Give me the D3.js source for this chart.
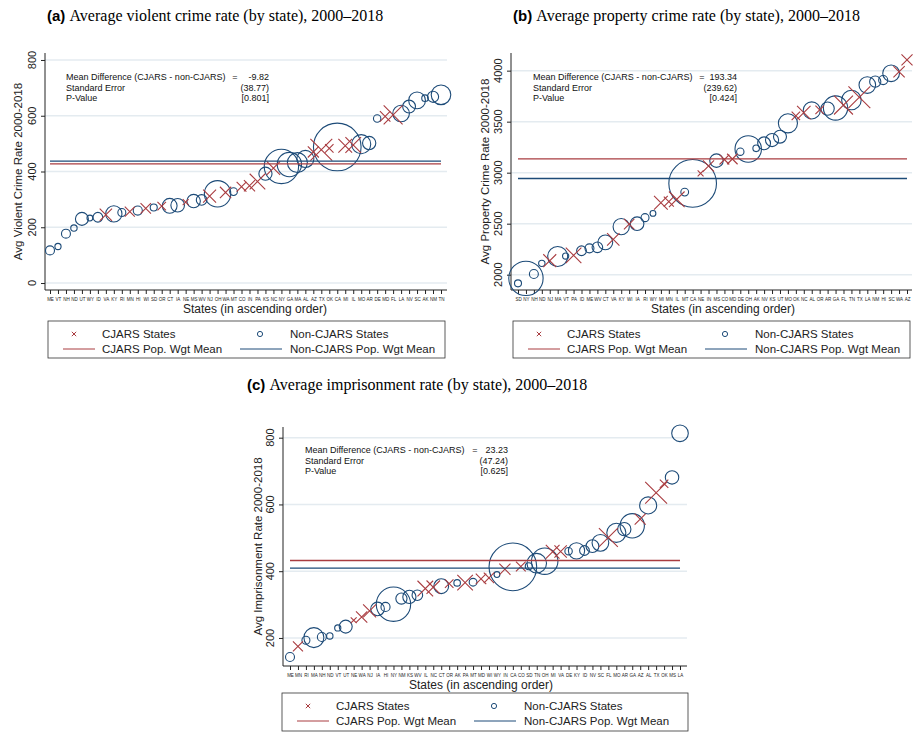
<!DOCTYPE html>
<html>
<head>
<meta charset="utf-8">
<script src="https://cdn.jsdelivr.net/npm/d3@7"></script>
<style>
  body { margin: 0; background: #fff; }
  svg { display: block; font-family: "Liberation Sans", Arial, sans-serif; }
</style>
</head>
<body>
<svg id="chart" width="915" height="733"></svg>
<script>
// ── Data ──
const cjarsStates = ["AZ","CO","FL","IL","IN","MD","MI","MN","NE","NJ","NC","OK","OR","PA","TX","VA","WA","WI"];

// population (millions) -> marker weight
const popStates = ["AL","AK","AZ","AR","CA","CO","CT","DE","FL","GA","HI","ID","IL","IN","IA","KS","KY","LA","ME","MD",
  "MA","MI","MN","MS","MO","MT","NE","NV","NH","NJ","NM","NY","NC","ND","OH","OK","OR","PA","RI","SC",
  "SD","TN","TX","UT","VT","VA","WA","WV","WI","WY"];
const popMillions = [4.8,0.71,6.4,2.9,37.3,5.0,3.6,0.9,18.8,9.7,1.36,1.57,12.8,6.5,3.05,2.85,4.34,4.53,1.33,5.77,
  6.55,9.88,5.3,2.97,5.99,0.99,1.83,2.7,1.32,8.8,2.06,19.4,9.5,0.67,11.5,3.75,3.83,12.7,1.05,4.6,
  0.81,6.3,25.1,2.76,0.63,8.0,6.7,1.85,5.69,0.56];

const violentStates = ["ME","VT","NH","ND","UT","WY","ID","VA","KY","RI","MN","HI","WI","SD","OR","CT","IA","NE","MS","WV",
  "NJ","OH","WA","MT","CO","IN","PA","KS","NC","NY","GA","MA","AL","AZ","TX","OK","CA","MI","IL","MO",
  "AR","DE","MD","FL","LA","NV","SC","AK","NM","TN"];
const violentRates = [117,131,177,197,230,233,236,245,248,253,256,260,268,271,276,277,279,290,294,298,
  312,320,325,328,345,349,364,392,412,418,425,432,445,470,478,483,488,492,495,498,
  502,590,598,603,608,633,655,663,668,675];
const violentTicks = [0,200,400,600,800];
const violentMeans = [427, 437];          // CJARS, non-CJARS
const violentStats = ["-9.82","(38.77)","[0.801]"];

const propertyStates = ["SD","NY","NH","ND","NJ","MA","VT","PA","ID","ME","WV","CT","VA","KY","WI","IA","RI","WY","MI","MN",
  "IL","MT","CA","NE","IN","MS","CO","MD","DE","OH","AK","NV","KS","UT","MO","OK","NC","AL","OR","AR",
  "GA","FL","TN","TX","LA","NM","HI","SC","WA","AZ"];
const propertyRates = [1915,1964,2007,2111,2137,2178,2183,2190,2235,2258,2268,2317,2346,2471,2495,2500,2559,2601,2706,2716,
  2739,2810,2895,2993,3065,3118,3128,3134,3206,3232,3239,3288,3320,3353,3484,3556,3588,3610,3616,3628,
  3634,3663,3712,3739,3859,3892,3908,3974,3990,4105];
const propertyTicks = [2000,2500,3000,3500,4000];
const propertyMeans = [3136, 2943];
const propertyStats = ["193.34","(239.62)","[0.424]"];

const prisonStates = ["ME","MN","RI","MA","NH","ND","VT","UT","NE","WA","NJ","IA","HI","NY","NM","KS","WV","IL","NC","CT",
  "OR","AK","PA","MT","MD","WI","WY","IN","CA","CO","SD","TN","OH","MI","VA","DE","KY","ID","NV","SC",
  "FL","MO","AR","GA","AZ","AL","TX","OK","MS","LA"];
const prisonRates = [143,175,193,201,203,206,230,234,253,263,281,287,293,301,318,323,328,348,352,355,
  363,365,366,367,377,380,390,406,413,414,415,424,430,458,459,460,461,462,475,485,
  501,515,526,536,556,597,635,662,681,813];
const prisonTicks = [200,400,600,800];
const prisonMeans = [432, 409];
const prisonStats = ["23.23","(47.24)","[0.625]"];

const statLabels = ["Mean Difference (CJARS - non-CJARS)", "Standard Error", "P-Value"];

// ── Style ──
const RED = '#a93c40';
const BLUE = '#1d4b78';
const GRID = '#e4ebf0';

const svg = d3.select('#chart');
const popOf = new Map(popStates.map((s, i) => [s, popMillions[i]]));
const cjarsSet = new Set(cjarsStates);
const rScale = d3.scaleSqrt().domain([0, 40]).range([0, 3.9 * Math.sqrt(40)]);

const panels = [
  { letter: '(a)', title: 'Average violent crime rate (by state), 2000–2018', titleX: 47, titleY: 21,
    states: violentStates, values: violentRates, ticks: violentTicks, means: violentMeans, stats: violentStats,
    yTitle: 'Avg Violent Crime Rate 2000-2018',
    left: 45, right: 447, top: 53, bottom: 290, xRange: [50, 441], yDomain: [-25, 825],
    yTitleX: 18, statX: 66, statY: 80, eqX: 235, valX: 269, xTitleX: 255,
    legend: { x: 48, y: 321, w: 397, h: 37 } },
  { letter: '(b)', title: 'Average property crime rate (by state), 2000–2018', titleX: 513, titleY: 21,
    states: propertyStates, values: propertyRates, ticks: propertyTicks, means: propertyMeans, stats: propertyStats,
    yTitle: 'Avg Property Crime Rate 2000-2018',
    left: 511, right: 912, top: 53, bottom: 290, xRange: [518, 907], yDomain: [1850, 4173],
    yTitleX: 485, statX: 533, statY: 80, eqX: 702, valX: 737, xTitleX: 723,
    legend: { x: 513, y: 321, w: 397, h: 37 } },
  { letter: '(c)', title: 'Average imprisonment rate (by state), 2000–2018', titleX: 247, titleY: 390,
    states: prisonStates, values: prisonRates, ticks: prisonTicks, means: prisonMeans, stats: prisonStats,
    yTitle: 'Avg Imprisonment Rate 2000-2018',
    left: 283, right: 687, top: 427, bottom: 666, xRange: [290, 680], yDomain: [116, 832],
    yTitleX: 258, statX: 305, statY: 453, eqX: 475, valX: 508, xTitleX: 481,
    legend: { x: 282, y: 693, w: 406, h: 38 } }
];

function crossPath(s) {
  return `M${-s},${-s}L${s},${s}M${-s},${s}L${s},${-s}`;
}

function drawPanel(p) {
  const g = svg.append('g');
  const x = d3.scalePoint().domain(p.states).range(p.xRange);
  const y = d3.scaleLinear().domain(p.yDomain).range([p.bottom, p.top]);

  // title
  const t = g.append('text').attr('x', p.titleX).attr('y', p.titleY).attr('fill', '#000');
  t.append('tspan').attr('font-weight', 'bold').attr('font-size', 15).text(p.letter + ' ');
  t.append('tspan').attr('font-family', '"Liberation Serif", "Times New Roman", serif')
    .attr('font-size', 16).text(p.title);

  // grid
  g.append('g').selectAll('line').data(p.ticks).join('line')
    .attr('x1', p.left).attr('x2', p.right)
    .attr('y1', d => y(d)).attr('y2', d => y(d))
    .attr('stroke', GRID).attr('stroke-width', 1.5);

  // y axis
  const yAx = g.append('g').attr('transform', `translate(${p.left},0)`)
    .call(d3.axisLeft(y).tickValues(p.ticks).tickSize(4).tickSizeOuter(0));
  yAx.select('.domain').remove();
  yAx.selectAll('.tick line').attr('stroke', '#222');
  yAx.selectAll('.tick text').remove();
  g.append('g').selectAll('text').data(p.ticks).join('text')
    .attr('transform', d => `translate(${p.left - 13},${y(d)}) rotate(-90)`)
    .attr('dy', '0.35em').attr('text-anchor', 'middle')
    .attr('font-size', 11).attr('fill', '#222').text(d => d);
  g.append('line').attr('x1', p.left).attr('x2', p.left).attr('y1', p.top).attr('y2', p.bottom)
    .attr('stroke', '#222');

  g.append('text')
    .attr('transform', `translate(${p.yTitleX},${(p.top + p.bottom) / 2}) rotate(-90)`)
    .attr('dy', '0.35em').attr('text-anchor', 'middle')
    .attr('font-size', 11.5).attr('fill', '#222').text(p.yTitle);

  // x axis
  const xAx = g.append('g').attr('transform', `translate(0,${p.bottom})`)
    .call(d3.axisBottom(x).tickSize(4).tickSizeOuter(0).tickPadding(4));
  xAx.select('.domain').remove();
  xAx.selectAll('.tick line').attr('stroke', '#222');
  xAx.selectAll('.tick text').attr('font-size', 4.5).attr('fill', '#222')
    .attr('font-family', '"Liberation Sans", Arial, sans-serif');
  g.append('line').attr('x1', p.left).attr('x2', p.right).attr('y1', p.bottom).attr('y2', p.bottom)
    .attr('stroke', '#222');
  g.append('text').attr('x', p.xTitleX).attr('y', p.bottom + 23)
    .attr('text-anchor', 'middle').attr('font-size', 12).attr('fill', '#222')
    .text('States (in ascending order)');

  // marks
  const pts = p.states.map((s, i) => ({ s, v: p.values[i], cj: cjarsSet.has(s), r: rScale(popOf.get(s)) }));
  g.append('g').selectAll('circle').data(pts.filter(d => !d.cj)).join('circle')
    .attr('cx', d => x(d.s)).attr('cy', d => y(d.v)).attr('r', d => d.r)
    .attr('fill', 'none').attr('stroke', BLUE).attr('stroke-width', 1.1);
  g.append('g').selectAll('path').data(pts.filter(d => d.cj)).join('path')
    .attr('transform', d => `translate(${x(d.s)},${y(d.v)})`)
    .attr('d', d => crossPath(d.r * 0.56))
    .attr('fill', 'none').attr('stroke', RED).attr('stroke-width', 1.1);

  // weighted mean lines
  g.append('g').selectAll('line').data(p.means).join('line')
    .attr('x1', p.xRange[0]).attr('x2', p.xRange[1])
    .attr('y1', d => y(d)).attr('y2', d => y(d))
    .attr('stroke', (d, i) => i === 0 ? RED : BLUE).attr('stroke-width', 1.3);

  // stats box
  const st = g.append('g').attr('font-size', 9).attr('fill', '#111');
  statLabels.forEach((lab, i) => {
    const yy = p.statY + i * 10.7;
    st.append('text').attr('x', p.statX).attr('y', yy).text(lab);
    st.append('text').attr('x', p.valX).attr('y', yy).attr('text-anchor', 'end').text(p.stats[i]);
  });
  st.append('text').attr('x', p.eqX).attr('y', p.statY).attr('text-anchor', 'middle').text('=');

  // legend
  const L = p.legend;
  const lg = g.append('g').attr('transform', `translate(${L.x},${L.y})`);
  lg.append('rect').attr('width', L.w).attr('height', L.h)
    .attr('fill', '#fff').attr('stroke', '#333').attr('stroke-width', 0.8);
  const r1 = 13, r2 = 28;
  lg.append('path').attr('transform', `translate(26,${r1})`).attr('d', crossPath(2.2))
    .attr('stroke', RED).attr('fill', 'none');
  lg.append('circle').attr('cx', 212).attr('cy', r1).attr('r', 2.6)
    .attr('stroke', BLUE).attr('fill', 'none');
  lg.append('line').attr('x1', 15).attr('x2', 47).attr('y1', r2).attr('y2', r2).attr('stroke', RED);
  lg.append('line').attr('x1', 192).attr('x2', 234).attr('y1', r2).attr('y2', r2).attr('stroke', BLUE);
  const lt = lg.append('g').attr('font-size', 11.5).attr('fill', '#222');
  [['CJARS States', 54, r1], ['Non-CJARS States', 242, r1],
   ['CJARS Pop. Wgt Mean', 54, r2], ['Non-CJARS Pop. Wgt Mean', 242, r2]].forEach(([txt, xx, yy]) => {
    lt.append('text').attr('x', xx).attr('y', yy).attr('dy', '0.35em').text(txt);
  });
}

panels.forEach(drawPanel);
</script>
</body>
</html>
